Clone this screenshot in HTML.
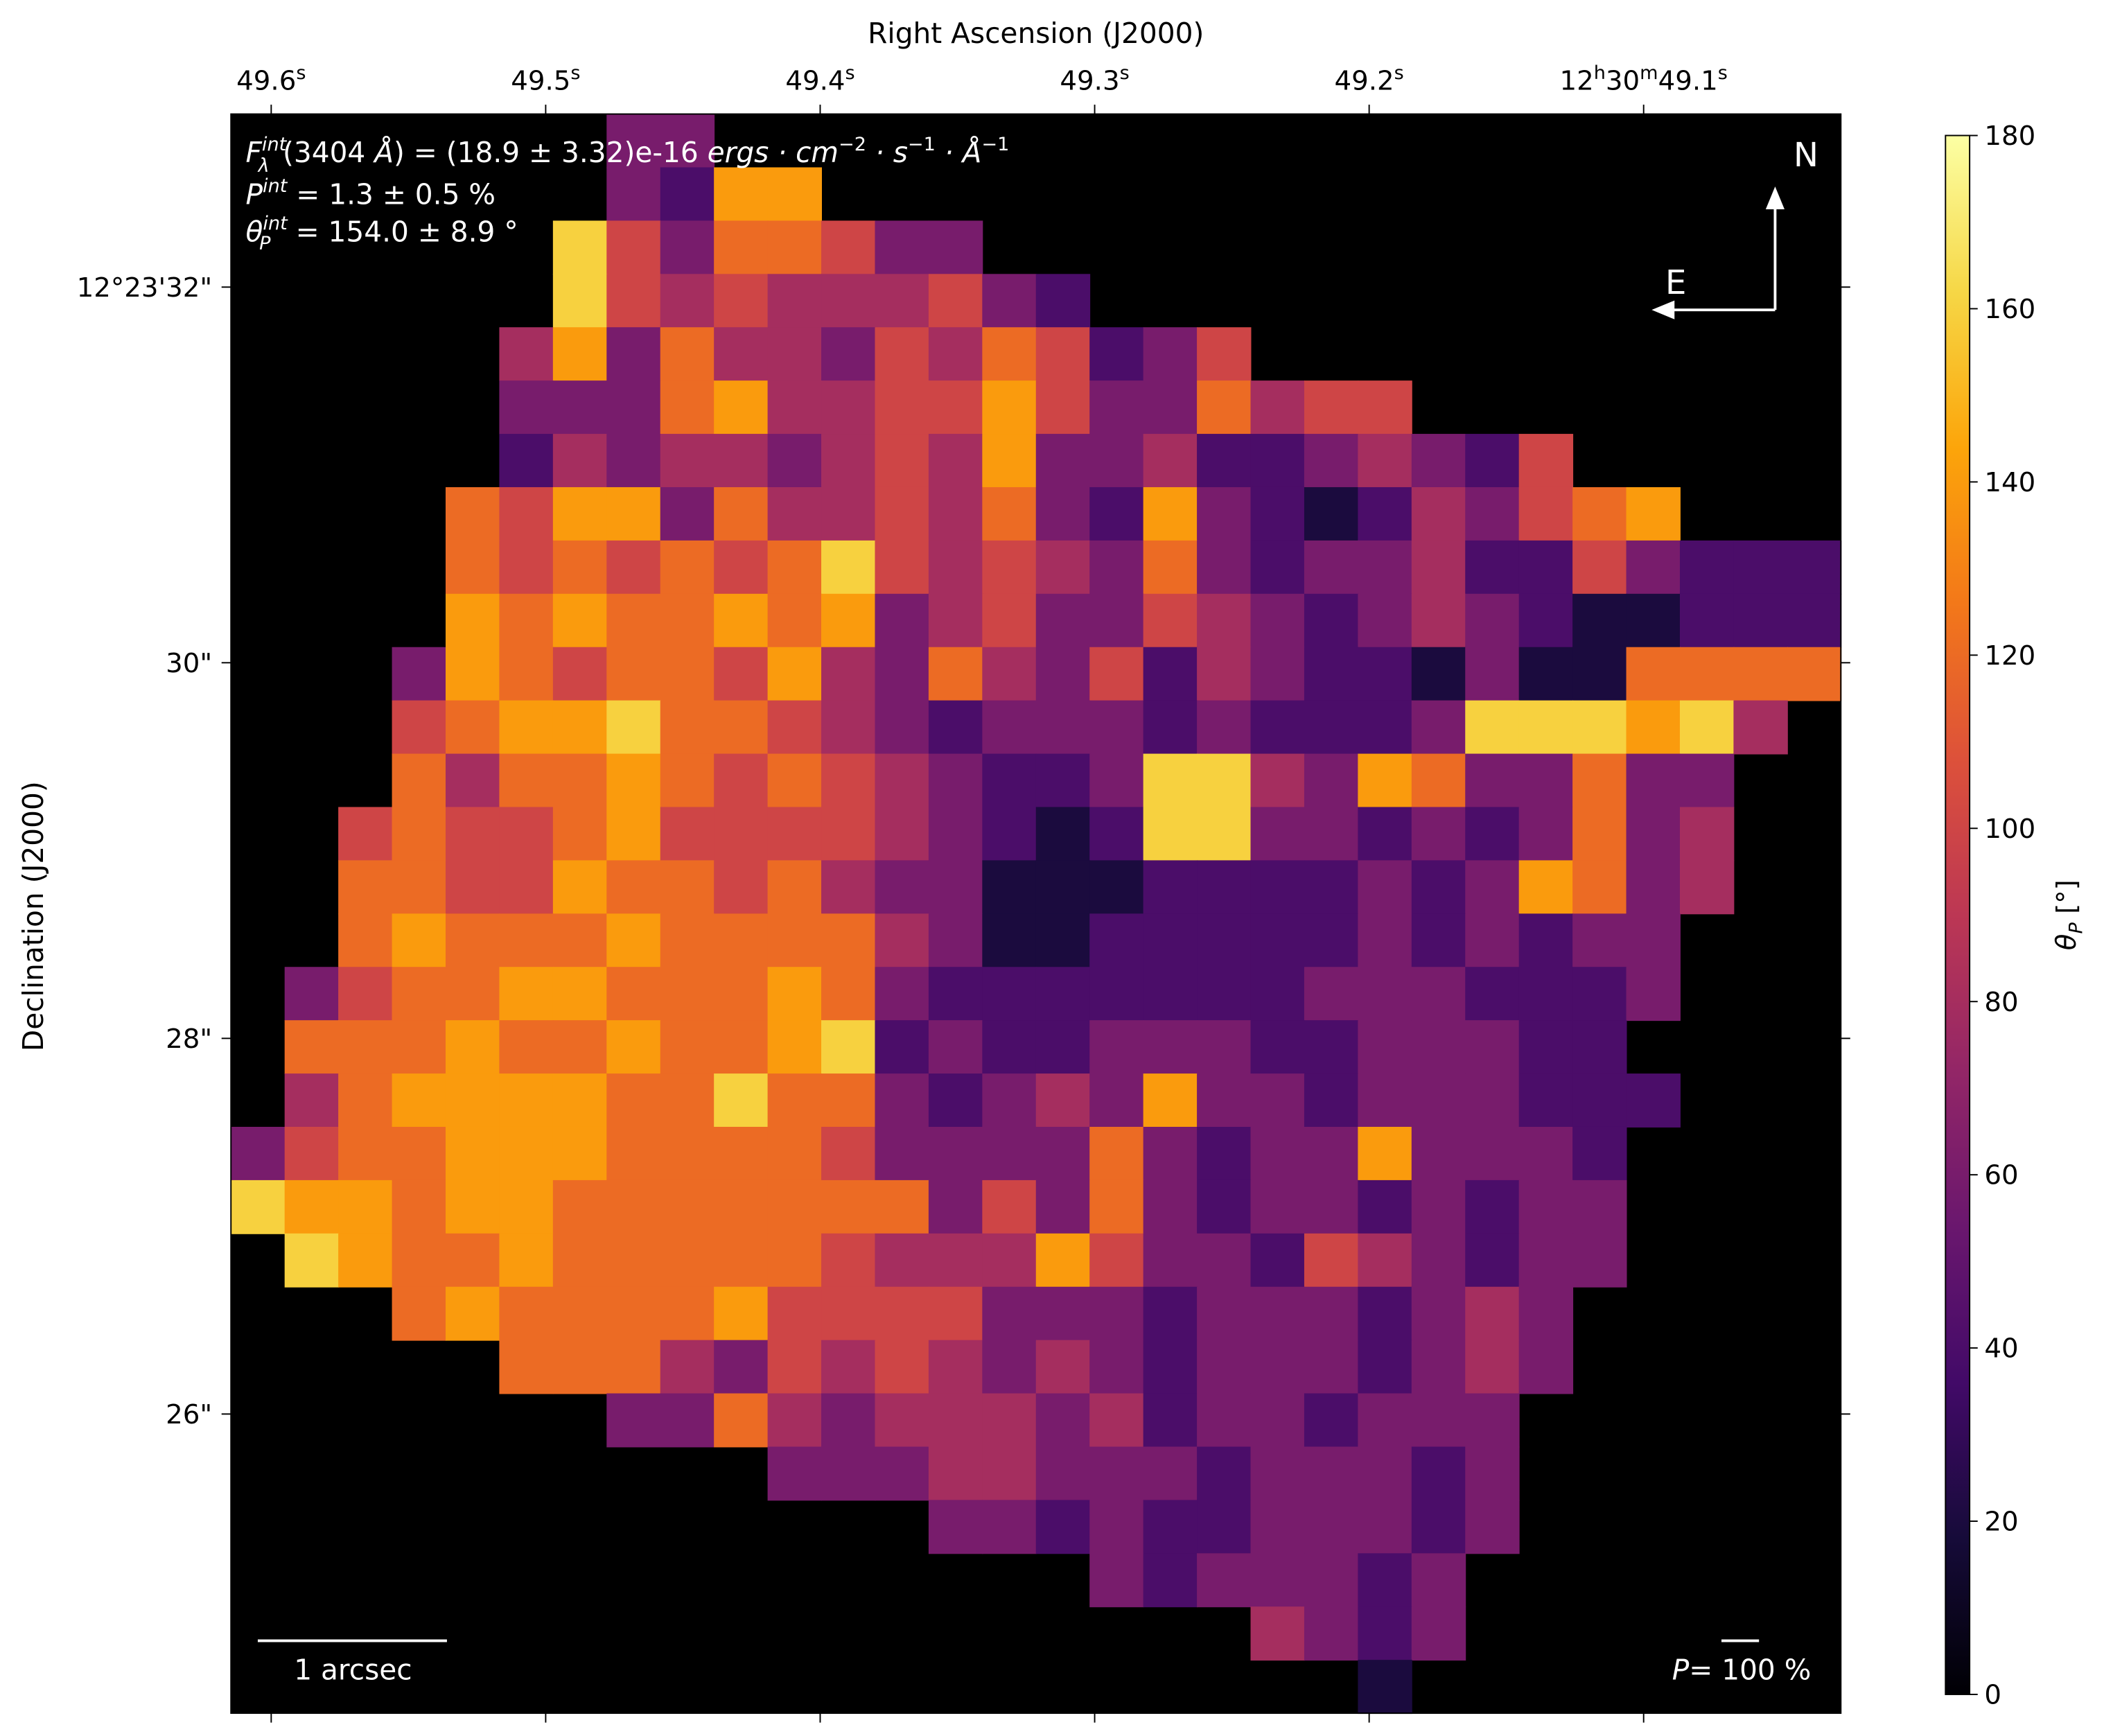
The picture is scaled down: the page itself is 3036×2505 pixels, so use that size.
<!DOCTYPE html>
<html><head><meta charset="utf-8"><style>
html,body{margin:0;padding:0;background:#fff;}
svg{display:block;font-family:"DejaVu Sans","Liberation Sans",sans-serif;}
</style></head><body>
<svg id="chart" xmlns="http://www.w3.org/2000/svg" width="3036" height="2505" viewBox="0 0 1568 1294">
<defs>
<linearGradient id="cbgrad" x1="0" y1="1" x2="0" y2="0">
<stop offset="0" stop-color="#000004"/><stop offset="0.1" stop-color="#160b39"/><stop offset="0.2" stop-color="#420a68"/><stop offset="0.3" stop-color="#6a176e"/><stop offset="0.4" stop-color="#932667"/><stop offset="0.5" stop-color="#bc3754"/><stop offset="0.6" stop-color="#dd513a"/><stop offset="0.7" stop-color="#f37819"/><stop offset="0.8" stop-color="#fca50a"/><stop offset="0.9" stop-color="#f6d746"/><stop offset="1" stop-color="#fcffa4"/>
</linearGradient>
</defs>
<rect x="172" y="85" width="1200" height="1192" fill="#000"/>
<g id="cells"></g>
<rect x="172" y="85" width="1200" height="1192" fill="none" stroke="#000" stroke-width="1"/>
<g id="axes" font-size="20" fill="#000"></g>
<text x="772" y="32" font-size="21" text-anchor="middle">Right Ascension (J2000)</text>
<text transform="translate(32,683) rotate(-90)" font-size="21" text-anchor="middle">Declination (J2000)</text>
<g fill="#fff" font-size="21">
<text x="183" y="121"><tspan font-style="italic">F</tspan><tspan font-size="14" font-style="italic" dy="-9">int</tspan><tspan font-size="14" font-style="italic" dx="-21" dy="16">λ</tspan><tspan dx="10" dy="-7">(3404 </tspan><tspan font-style="italic">Å</tspan><tspan>) = (18.9 ± 3.32)e-16 </tspan><tspan font-style="italic">ergs · cm</tspan><tspan font-size="14" dy="-9">−2</tspan><tspan dy="9" font-style="italic"> · s</tspan><tspan font-size="14" dy="-9">−1</tspan><tspan dy="9" font-style="italic"> · Å</tspan><tspan font-size="14" dy="-9">−1</tspan></text>
<text x="183" y="152"><tspan font-style="italic">P</tspan><tspan font-size="14" font-style="italic" dy="-9">int</tspan><tspan dy="9"> = 1.3 ± 0.5 %</tspan></text>
<text x="183" y="180"><tspan font-style="italic">θ</tspan><tspan font-size="14" font-style="italic" dy="-9">int</tspan><tspan font-size="14" font-style="italic" dx="-21" dy="15">P</tspan><tspan dx="12" dy="-6"> = 154.0 ± 8.9 °</tspan></text>
<text x="1346" y="124" font-size="25" text-anchor="middle">N</text>
<text x="1249" y="219" font-size="25" text-anchor="middle">E</text>
<line x1="1323" y1="231" x2="1323" y2="152" stroke="#fff" stroke-width="2"/>
<polygon points="1316,156 1330,156 1323,139" fill="#fff"/>
<line x1="1323" y1="231" x2="1246" y2="231" stroke="#fff" stroke-width="2"/>
<polygon points="1248,224 1248,238 1231,231" fill="#fff"/>
<line x1="192" y1="1223" x2="333" y2="1223" stroke="#fff" stroke-width="2"/>
<text x="263" y="1252" text-anchor="middle">1 arcsec</text>
<line x1="1283" y1="1223" x2="1311" y2="1223" stroke="#fff" stroke-width="2"/>
<text x="1298" y="1252" text-anchor="middle"><tspan font-style="italic">P</tspan>= 100 %</text>
</g>
<rect x="1450" y="101" width="18" height="1162" fill="url(#cbgrad)" stroke="#000" stroke-width="1"/>
<g id="cbaxis" font-size="20"></g>
<text transform="translate(1547,682) rotate(-90)" font-size="20" text-anchor="middle"><tspan font-style="italic">θ</tspan><tspan font-size="14" font-style="italic" dy="5">P</tspan><tspan dy="-5"> [°]</tspan></text>
</svg>
<script>
// grid data: each entry = [first column, digits]; digit d => angle d*20 deg
const gridRows = [
[7,"33"],
[7,"3277"],
[6,"85366533"],
[6,"8545444532"],
[5,"47364435465235"],
[5,"33367445575336455"],
[5,"24344345473342234325"],
[4,"65773644546327321243567"],
[4,"65656568545436323342253222"],
[4,"76766767345335432343211222"],
[3,"376566574364352432213116666"],
[3,"56778665432333232223888784"],
[3,"6466765654322388437633633"],
[2,"56556755554321288332323634"],
[2,"66557665643311122223237634"],
[2,"6766676666431122222323233"],
[1,"35667766676322222223332223"],
[1,"6667667667823223332233322"],
[1,"46777766866323437332333222"],
[0,"35667776666533336323373332"],
[0,"87767766666663536323323233"],
[1,"8766766666544475332543233"],
[3,"6766667555533323332343"],
[5,"66643545434323332343"],
[7,"33643444342332333"],
[10,"33344333233323"],
[13,"33232233323"],
[16,"3233323"],
[19,"4323"],
[21,"1"]
];
const angleTicks = [0,20,40,60,80,100,120,140,160,180];
const raTicks = ["49.6|s","49.5|s","49.4|s","49.3|s","49.2|s","12|h|30|m|49.1|s"];
const raTickPos = [0,1,2,3,4,5];
const decTicks = ["12°23'32\"","30\"","28\"","26\""];
const decTickPos = [0,1,2,3];

const NS="http://www.w3.org/2000/svg";
const X0=172,Y0=85,W=1200,H=1192,NC=30,NR=30;
const cw=W/NC, ch=H/NR;
const stops=[[0,0,4],[22,11,57],[66,10,104],[106,23,110],[147,38,103],[188,55,84],[221,81,58],[243,120,25],[252,165,10],[246,215,70],[252,255,164]];
function inferno(v){const t=Math.max(0,Math.min(1,v/180))*10;const i=Math.min(9,Math.floor(t));const f=t-i;const a=stops[i],b=stops[i+1];return "rgb("+a.map((c,k)=>Math.round(c+(b[k]-c)*f)).join(",")+")";}
function xCell(c){return X0+c*cw;}
function yCell(r){return Y0+r*ch;}
const cells=document.getElementById("cells");
gridRows.forEach((row,r)=>{
  const start=row[0], s=row[1];
  for(let k=0;k<s.length;k++){
    const chr=s[k]; if(chr<"0"||chr>"9") continue;
    const c=start+k; if(c>=NC) continue;
    const v=+chr*20;
    const el=document.createElementNS(NS,"rect");
    
    
    el.setAttribute("x",xCell(c));el.setAttribute("y",yCell(r));
    el.setAttribute("width",cw+0.5);el.setAttribute("height",ch+0.5);
    el.setAttribute("fill",inferno(v));
    cells.appendChild(el);
  }
});
const axes=document.getElementById("axes");
function raX(i){return 202+i*204.6;}
function decY(i){return 214+i*280;}
function line(g,x1,y1,x2,y2,name){const l=document.createElementNS(NS,"line");
 
 
 l.setAttribute("x1",x1);l.setAttribute("y1",y1);l.setAttribute("x2",x2);l.setAttribute("y2",y2);l.setAttribute("stroke","#000");l.setAttribute("stroke-width","1");g.appendChild(l);}
raTickPos.forEach((p,i)=>{
 const x=raX(p);
 line(axes,x,85,x,78,'x-tick-top');
 line(axes,x,1277,x,1284,'x-tick-bottom');
 const parts=raTicks[i].split("|");
 const t=document.createElementNS(NS,"text");
 
 
 t.setAttribute("x",x);t.setAttribute("y",67);t.setAttribute("text-anchor","middle");
 for(let k=0;k<parts.length;k++){const s=document.createElementNS(NS,"tspan");s.textContent=parts[k];
  if(k%2===1){s.setAttribute("font-size","14");s.setAttribute("dy","-8");}else if(k>0){s.setAttribute("dy","8");}
  t.appendChild(s);}
 axes.appendChild(t);
});
decTickPos.forEach((p,i)=>{
 const y=decY(p);
 line(axes,172,y,165,y,'y-tick-left');
 line(axes,1372,y,1379,y,'y-tick-right');
 const t=document.createElementNS(NS,"text");
 
 
 t.setAttribute("x",158);t.setAttribute("y",y+7);t.setAttribute("text-anchor","end");
 t.textContent=decTicks[i];axes.appendChild(t);
});
const cb=document.getElementById("cbaxis");
angleTicks.forEach(v=>{
 const y=1263-v/180*1162;
 line(cb,1468,y,1474,y,'colorbar-tick');
 const t=document.createElementNS(NS,"text");
 
 
 t.setAttribute("x",1479);t.setAttribute("y",y+7);t.textContent=v;cb.appendChild(t);
});
</script>
</body></html>
